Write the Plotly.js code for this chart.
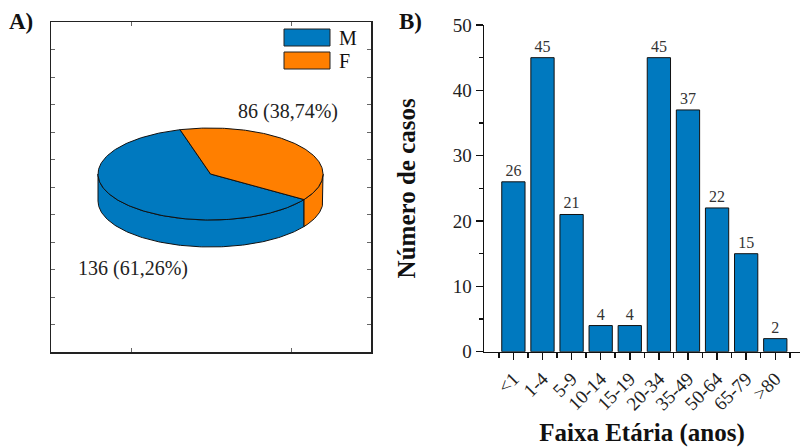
<!DOCTYPE html>
<html><head><meta charset="utf-8">
<script src="https://cdn.plot.ly/plotly-3.0.1.min.js"></script>
<style>html,body{margin:0;padding:0;background:#fff}</style>
</head><body><div id="chart" style="width:800px;height:447px"></div>
<script>
// ---------- data ----------
const sexLabels = ['M', 'F'];
const sexValues = [136, 86];
const sexColors = ['#0079BF', '#FF7F00'];

const ageGroups = ['<1', '1-4', '5-9', '10-14', '15-19', '20-34', '35-49', '50-64', '65-79', '>80'];
const ageCases = [26, 45, 21, 4, 4, 45, 37, 22, 15, 2];
const barColor = '#0079BF';

// ---------- helpers ----------
const W = 800, H = 447;
const px = x => x / W;
const py = y => 1 - y / H;
const FONT = "'Liberation Serif', 'Times New Roman', serif";

// 3D pie geometry in panel A axis units (1 unit = 1 px)
const PIE = {cx: 159.5, cy: 178, rx: 112.5, ry: 46, depth: 27, start: 105.7};
const total = sexValues.reduce((a, b) => a + b, 0);
const rad = d => d * Math.PI / 180;
const ex = t => PIE.cx + PIE.rx * Math.cos(rad(t));
const ey = t => PIE.cy + PIE.ry * Math.sin(rad(t));

const sideTraces = [], topTraces = [], annotations = [];
let ang = PIE.start;
sexValues.forEach((v, i) => {
  const span = v / total * 360;
  const a0 = ang, a1 = ang + span;
  ang = a1;
  // top face
  const n = Math.max(10, Math.ceil(span));
  const tx = [PIE.cx], ty = [PIE.cy];
  for (let k = 0; k <= n; k++) { const t = a0 + span * k / n; tx.push(ex(t)); ty.push(ey(t)); }
  tx.push(PIE.cx); ty.push(PIE.cy);
  topTraces.push({type: 'scatter', mode: 'lines', x: tx, y: ty, xaxis: 'x2', yaxis: 'y2',
    fill: 'toself', fillcolor: sexColors[i], line: {color: '#111', width: 1},
    name: sexLabels[i], showlegend: false, hoverinfo: 'skip'});
  // visible side (front half of the ellipse: 180..360 deg)
  for (let kk = 0; kk < 2; kk++) {
    const s = Math.max(a0, 180 + 360 * kk), e = Math.min(a1, 360 + 360 * kk);
    if (e > s) {
      const m = Math.max(6, Math.ceil(e - s));
      const sx = [], sy = [];
      for (let k = 0; k <= m; k++) { const t = s + (e - s) * k / m; sx.push(ex(t)); sy.push(ey(t)); }
      for (let k = m; k >= 0; k--) { const t = s + (e - s) * k / m; sx.push(ex(t)); sy.push(ey(t) - PIE.depth); }
      sx.push(sx[0]); sy.push(sy[0]);
      sideTraces.push({type: 'scatter', mode: 'lines', x: sx, y: sy, xaxis: 'x2', yaxis: 'y2',
        fill: 'toself', fillcolor: sexColors[i], line: {color: '#111', width: 1},
        showlegend: false, hoverinfo: 'skip'});
    }
  }
  // label
  const mid = (a0 + a1) / 2;
  const sn = Math.sin(rad(mid));
  const lx = PIE.cx + 0.85 * PIE.rx * Math.cos(rad(mid));
  const ly = sn >= 0 ? ey(mid) + 35 : ey(mid) - PIE.depth - 40;
  const pct = (v / total * 100).toFixed(2).replace('.', ',');
  annotations.push({xref: 'x2', yref: 'y2', x: lx, y: ly, text: `${v} (${pct}%)`,
    showarrow: false, xanchor: 'center', yanchor: 'middle', font: {family: FONT, size: 20, color: '#222'}});
});

// manual legend for panel A
const shapes = [];
sexLabels.forEach((lab, i) => {
  const y0 = 29 + i * 23;
  shapes.push({type: 'rect', xref: 'paper', yref: 'paper', x0: px(284), x1: px(330), y0: py(y0), y1: py(y0 + 17),
    fillcolor: sexColors[i], line: {color: '#222', width: 1}});
  annotations.push({xref: 'paper', yref: 'paper', x: px(337), y: py(y0 + 8.5), text: lab, showarrow: false,
    xanchor: 'left', yanchor: 'middle', font: {family: FONT, size: 20, color: '#111'}});
});

// panel letters
annotations.push({xref: 'paper', yref: 'paper', x: px(7), y: py(21), text: '<b>A)</b>', showarrow: false,
  xanchor: 'left', yanchor: 'middle', font: {family: FONT, size: 23, color: '#111'}});
annotations.push({xref: 'paper', yref: 'paper', x: px(397), y: py(21), text: '<b>B)</b>', showarrow: false,
  xanchor: 'left', yanchor: 'middle', font: {family: FONT, size: 23, color: '#111'}});

// bar trace
const barTrace = {type: 'bar', x: ageGroups, y: ageCases, xaxis: 'x', yaxis: 'y',
  marker: {color: barColor, line: {color: '#111', width: 1}},
  text: ageCases.map(String), textposition: 'outside', cliponaxis: false,
  textfont: {family: FONT, size: 16, color: '#333'}, showlegend: false, hoverinfo: 'x+y'};

const minorVals = [];
for (let k = -1; k < ageGroups.length; k++) minorVals.push(k + 0.5);

const layout = {
  width: W, height: H, margin: {l: 0, r: 0, t: 0, b: 0},
  paper_bgcolor: '#fff', plot_bgcolor: 'rgba(0,0,0,0)',
  font: {family: FONT, color: '#222'},
  showlegend: false, bargap: 0.2,
  xaxis: {domain: [px(484), 1], range: [-1.01, 9.85], type: 'category', anchor: 'y',
    tickangle: -45, ticks: 'outside', ticklen: 7, tickwidth: 1.5, tickcolor: '#111',
    showline: true, linecolor: '#111', linewidth: 1.5, showgrid: false, zeroline: false,
    tickfont: {family: FONT, size: 19, color: '#222'},
    minor: {tickmode: 'array', tickvals: minorVals, ticks: 'outside', ticklen: 5, tickwidth: 1.5, tickcolor: '#111'},
    title: {text: '<b>Faixa Etária (anos)</b>', font: {family: FONT, size: 25, color: '#111'}, standoff: 10}},
  yaxis: {domain: [py(351.7), py(25)], range: [0, 50], anchor: 'x',
    tickmode: 'linear', tick0: 0, dtick: 10, ticks: 'outside', ticklen: 7, tickwidth: 1.5, tickcolor: '#111',
    showline: true, linecolor: '#111', linewidth: 1.5, showgrid: false, zeroline: false,
    tickfont: {family: FONT, size: 19, color: '#222'},
    minor: {dtick: 5, ticks: 'outside', ticklen: 4, tickwidth: 1.5, tickcolor: '#111'},
    title: {text: '<b>Número de casos</b>', font: {family: FONT, size: 25, color: '#111'}, standoff: 30}},
  xaxis2: {domain: [px(51), px(371)], range: [0, 320], anchor: 'y2', showline: true, mirror: 'ticks',
    linecolor: '#222', linewidth: 1.5, ticks: 'inside', ticklen: 4, tickwidth: 1, tickcolor: '#666',
    tickmode: 'array', tickvals: [80, 240], showticklabels: false, showgrid: false, zeroline: false, fixedrange: true},
  yaxis2: {domain: [py(352), py(22)], range: [0, 330], anchor: 'x2', showline: true, mirror: 'ticks',
    linecolor: '#222', linewidth: 1.5, ticks: 'inside', ticklen: 4, tickwidth: 1, tickcolor: '#666',
    tickmode: 'linear', tick0: 0, dtick: 27.5, showticklabels: false, showgrid: false, zeroline: false, fixedrange: true},
  shapes: shapes,
  annotations: annotations
};

Plotly.newPlot('chart', [...sideTraces, ...topTraces, barTrace], layout, {staticPlot: true, displayModeBar: false});
</script>
</body></html>
